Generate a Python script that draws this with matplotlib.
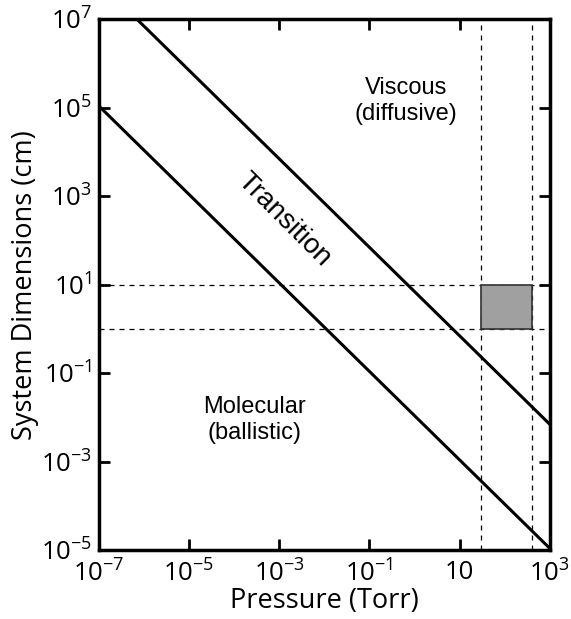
import numpy as np
import matplotlib
matplotlib.use("Agg")
import matplotlib.pyplot as plt
from matplotlib.patches import Rectangle

plt.rcParams['font.family'] = ['Open Sans', 'DejaVu Sans']
plt.rcParams['mathtext.fontset'] = 'custom'
plt.rcParams['mathtext.rm'] = 'Open Sans'
plt.rcParams['mathtext.it'] = 'Open Sans'

# boundary lines  y = k / p
pressure = np.array([1e-7, 1e3])
k_molecular = 1.1e-2
k_viscous = 7.0

# operating window
p_window = [30, 400]
d_window = [1, 10]

xticks = [1e-7, 1e-5, 1e-3, 1e-1, 1e1, 1e3]
xticklabels = [r'$10^{-7}$', r'$10^{-5}$', r'$10^{-3}$', r'$10^{-1}$', '10', r'$10^{3}$']
yticks = [1e-5, 1e-3, 1e-1, 1e1, 1e3, 1e5, 1e7]
yticklabels = [r'$10^{-5}$', r'$10^{-3}$', r'$10^{-1}$', r'$10^{1}$', r'$10^{3}$', r'$10^{5}$', r'$10^{7}$']

fig = plt.figure(figsize=(5.71, 6.19), dpi=100)
ax = fig.add_axes([0.173, 0.111, 0.79, 0.858])

ax.plot(pressure, k_molecular / pressure, 'k-', lw=2.2)
ax.plot(pressure, k_viscous / pressure, 'k-', lw=2.2)

for p in p_window:
    ax.axvline(p, color='k', ls=(0, (4, 4)), lw=0.9)
for d in d_window:
    ax.axhline(d, color='k', ls=(0, (4, 4)), lw=0.9)

ax.add_patch(Rectangle((p_window[0], d_window[0]), p_window[1] - p_window[0],
                       d_window[1] - d_window[0], facecolor='#a0a0a0',
                       edgecolor='#333333', lw=1.2, zorder=3))

ax.set_xscale('log')
ax.set_yscale('log')
ax.set_xlim(1e-7, 1e3)
ax.set_ylim(1e-5, 1e7)
ax.set_xticks(xticks)
ax.set_xticklabels(xticklabels)
ax.set_yticks(yticks)
ax.set_yticklabels(yticklabels)
ax.minorticks_off()
ax.tick_params(direction='in', length=8, width=2, top=True, right=True,
               labelsize=18.5)
ax.tick_params(axis='x', pad=7)
ax.tick_params(axis='y', pad=5)
for s in ax.spines.values():
    s.set_linewidth(2.5)

ax.set_xlabel('Pressure (Torr)', fontsize=19.5, labelpad=0)
ax.set_ylabel('System Dimensions (cm)', fontsize=19.5, labelpad=1)

ann = ['Liberation Sans', 'DejaVu Sans']
ax.text(0.65, 1.4e5, 'Viscous\n(diffusive)', ha='center', va='center',
        fontsize=17, linespacing=1.25, family=ann)
ax.text(1.3e-3, 290, 'Transition', ha='center', va='center',
        fontsize=20, rotation=-45, family=ann)
ax.text(2.9e-4, 8.7e-3, 'Molecular\n(ballistic)', ha='center', va='center',
        fontsize=17, linespacing=1.25, family=ann)

fig.savefig('out.png', dpi=100)
